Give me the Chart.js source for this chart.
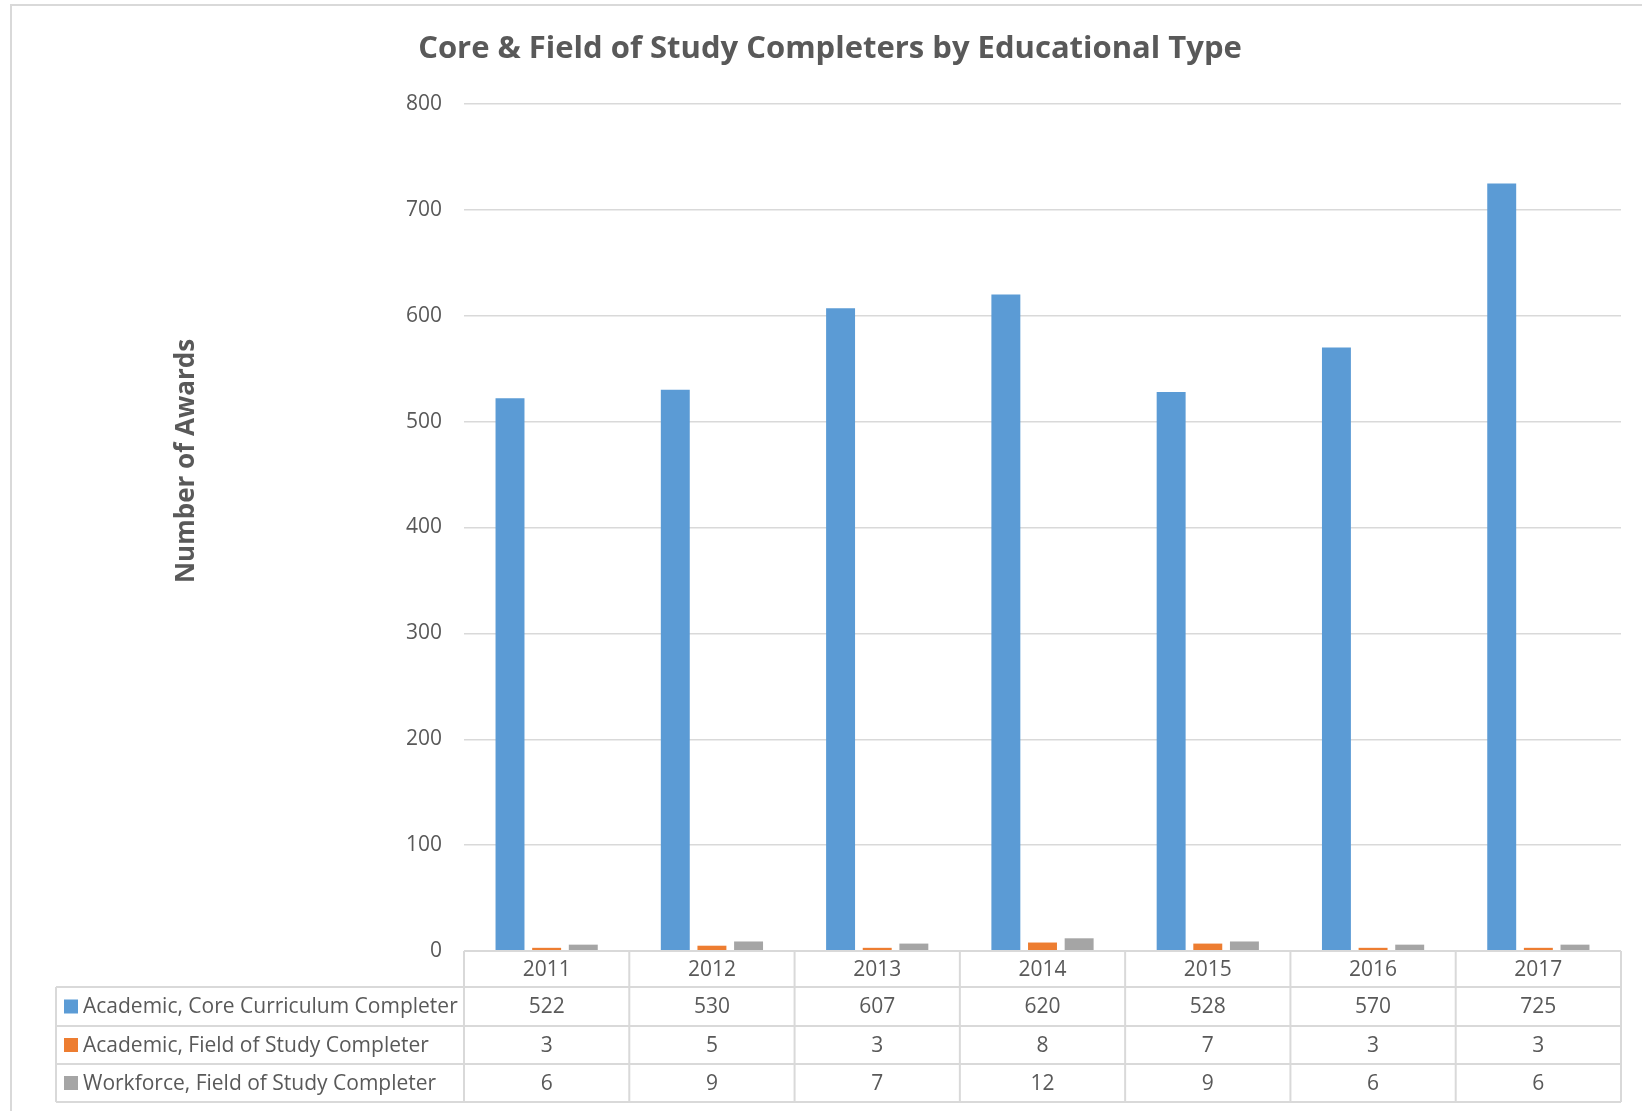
<!DOCTYPE html>
<html>
<head>
<meta charset="utf-8">
<script src="https://cdn.jsdelivr.net/npm/chart.js@4/dist/chart.umd.min.js"></script>
<style>
  html, body { margin: 0; padding: 0; background: #ffffff; }
  #wrap { position: relative; width: 1642px; height: 1111px; }
</style>
</head>
<body>
<div id="wrap"><canvas id="c"></canvas></div>
<script>
const categories = ['2011', '2012', '2013', '2014', '2015', '2016', '2017'];
const seriesNames = ['Academic, Core Curriculum Completer', 'Academic, Field of Study Completer', 'Workforce, Field of Study Completer'];
const coreCurriculum = [522, 530, 607, 620, 528, 570, 725];
const academicField = [3, 5, 3, 8, 7, 3, 3];
const workforceField = [6, 9, 7, 12, 9, 6, 6];
const yTicks = [0, 100, 200, 300, 400, 500, 600, 700, 800];
const colors = ['#5b9bd5', '#ed7d31', '#a5a5a5'];
const titleText = 'Core & Field of Study Completers by Educational Type';
const yTitleText = 'Number of Awards';

const FONT = '"Open Sans", "Noto Sans", sans-serif';
const TEXT = '#595959';
const LINE = '#d9d9d9';

const seriesValues = [coreCurriculum, academicField, workforceField];

const decor = {
  id: 'decor',
  beforeDraw(chart) {
    const ctx = chart.ctx;
    ctx.save();
    ctx.strokeStyle = LINE;
    ctx.lineWidth = 2;
    ctx.beginPath();
    ctx.moveTo(11, 1111);
    ctx.lineTo(11, 5);
    ctx.lineTo(1642, 5);
    ctx.stroke();
    // title
    ctx.fillStyle = TEXT;
    ctx.font = 'bold 31px ' + FONT;
    ctx.textAlign = 'center';
    ctx.textBaseline = 'middle';
    ctx.fillText(titleText, 830, 49);
    // y title
    ctx.translate(187, 461);
    ctx.rotate(-Math.PI / 2);
    ctx.font = 'bold 26px ' + FONT;
    ctx.fillText(yTitleText, 0, 0);
    ctx.restore();
  },
  afterDraw(chart) {
    const ctx = chart.ctx;
    const area = chart.chartArea;
    const xs = chart.scales.x;
    const n = categories.length;
    const colW = (area.right - area.left) / n;
    const rows = [area.bottom, 987, 1026, 1064, 1102];
    const tableLeft = 56;
    ctx.save();
    ctx.strokeStyle = LINE;
    ctx.lineWidth = 2;
    ctx.beginPath();
    ctx.moveTo(area.left, rows[0]); ctx.lineTo(area.right, rows[0]);
    for (let r = 1; r < rows.length; r++) {
      ctx.moveTo(tableLeft, rows[r]); ctx.lineTo(area.right, rows[r]);
    }
    ctx.moveTo(tableLeft, rows[1]); ctx.lineTo(tableLeft, rows[4]);
    for (let i = 0; i < n; i++) {
      const xl = xs.getPixelForValue(i) - colW / 2;
      ctx.moveTo(xl, rows[0]); ctx.lineTo(xl, rows[4]);
    }
    ctx.moveTo(area.right, rows[0]); ctx.lineTo(area.right, rows[4]);
    ctx.stroke();

    ctx.fillStyle = TEXT;
    ctx.font = '21px ' + FONT;
    ctx.textAlign = 'center';
    ctx.textBaseline = 'middle';
    for (let i = 0; i < n; i++) {
      const cx = xs.getPixelForValue(i);
      ctx.fillText(categories[i], cx, (rows[0] + rows[1]) / 2 + 1);
      for (let s = 0; s < seriesValues.length; s++) {
        ctx.fillText(String(seriesValues[s][i]), cx, (rows[s + 1] + rows[s + 2]) / 2 + 1);
      }
    }
    ctx.textAlign = 'left';
    for (let s = 0; s < seriesNames.length; s++) {
      const cy = (rows[s + 1] + rows[s + 2]) / 2;
      ctx.fillStyle = colors[s];
      ctx.fillRect(64, cy - 7, 14, 14);
      ctx.fillStyle = TEXT;
      ctx.fillText(seriesNames[s], 83, cy + 1);
    }
    ctx.restore();
  }
};

new Chart(document.getElementById('c'), {
  type: 'bar',
  data: {
    labels: categories,
    datasets: seriesNames.map((name, i) => ({
      label: name,
      data: seriesValues[i],
      backgroundColor: colors[i],
      borderWidth: 0,
      categoryPercentage: 0.665,
      barPercentage: 0.79
    }))
  },
  options: {
    responsive: true,
    maintainAspectRatio: false,
    animation: false,
    layout: { padding: { left: 0, right: 21, top: 104, bottom: 160 } },
    plugins: {
      legend: { display: false },
      title: { display: false },
      tooltip: { enabled: false }
    },
    scales: {
      x: {
        display: false,
        grid: { display: false }
      },
      y: {
        min: yTicks[0],
        max: yTicks[yTicks.length - 1],
        afterFit(scale) { scale.width = 464; },
        afterBuildTicks(scale) { scale.ticks = yTicks.map(v => ({ value: v })); },
        border: { display: false },
        grid: { color: LINE, lineWidth: 1.5, drawTicks: false },
        ticks: {
          padding: 22,
          color: TEXT,
          font: { family: FONT, size: 21 }
        }
      }
    }
  },
  plugins: [decor]
});
</script>
</body>
</html>
